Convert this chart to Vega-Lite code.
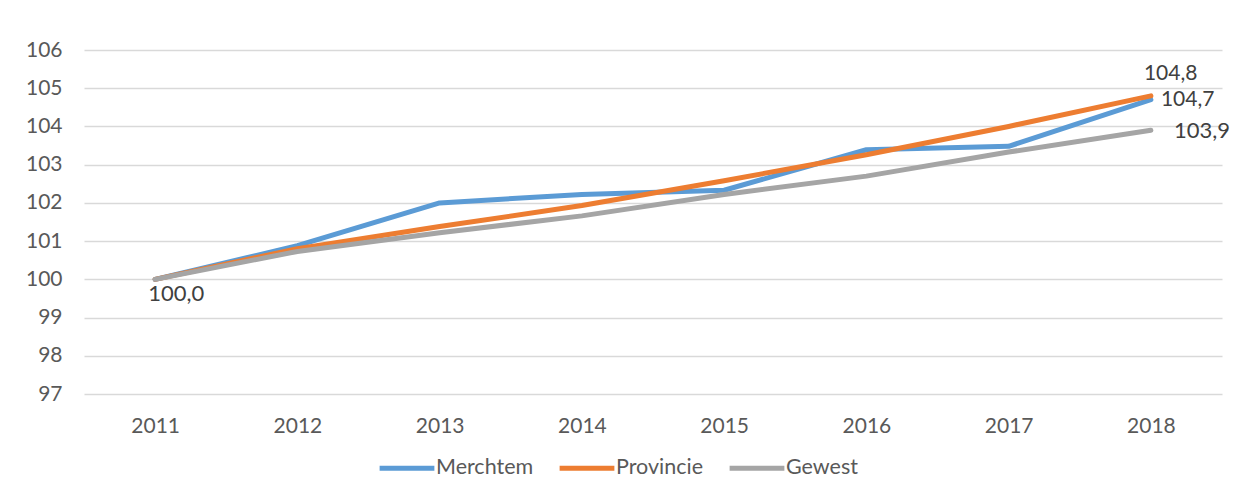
{
  "$schema": "https://vega.github.io/schema/vega-lite/v6.json",
  "width": 1138,
  "height": 344,
  "autosize": {"type": "none"},
  "padding": {"left": 84, "top": 50, "right": 15, "bottom": 107},
  "background": "white",
  "config": {
    "view": {"stroke": null},
    "font": "Lato",
    "locale": {"number": {"decimal": ",", "thousands": ".", "grouping": [3], "currency": ["€", ""]}},
    "axis": {"labelFont": "Lato", "labelFontSize": 21, "labelColor": "#595959", "ticks": false, "domain": false, "title": null},
    "legend": {"labelFont": "Lato", "labelFontSize": 21.5, "labelColor": "#595959"}
  },
  "data": {"values": [
    {"year": "2011", "series": "Merchtem", "value": 100.0},
    {"year": "2012", "series": "Merchtem", "value": 100.88},
    {"year": "2013", "series": "Merchtem", "value": 102.0},
    {"year": "2014", "series": "Merchtem", "value": 102.22},
    {"year": "2015", "series": "Merchtem", "value": 102.33},
    {"year": "2016", "series": "Merchtem", "value": 103.39},
    {"year": "2017", "series": "Merchtem", "value": 103.48},
    {"year": "2018", "series": "Merchtem", "value": 104.7},
    {"year": "2011", "series": "Provincie", "value": 100.0},
    {"year": "2012", "series": "Provincie", "value": 100.8},
    {"year": "2013", "series": "Provincie", "value": 101.38},
    {"year": "2014", "series": "Provincie", "value": 101.93},
    {"year": "2015", "series": "Provincie", "value": 102.58},
    {"year": "2016", "series": "Provincie", "value": 103.26},
    {"year": "2017", "series": "Provincie", "value": 104.0},
    {"year": "2018", "series": "Provincie", "value": 104.8},
    {"year": "2011", "series": "Gewest", "value": 100.0},
    {"year": "2012", "series": "Gewest", "value": 100.73},
    {"year": "2013", "series": "Gewest", "value": 101.22},
    {"year": "2014", "series": "Gewest", "value": 101.66},
    {"year": "2015", "series": "Gewest", "value": 102.22},
    {"year": "2016", "series": "Gewest", "value": 102.7},
    {"year": "2017", "series": "Gewest", "value": 103.33},
    {"year": "2018", "series": "Gewest", "value": 103.9}
  ]},
  "encoding": {
    "x": {"field": "year", "type": "ordinal", "scale": {"type": "point", "padding": 0.5},
      "axis": {"labelAngle": 0, "labelPadding": 21, "grid": false}},
    "y": {"field": "value", "type": "quantitative", "scale": {"domain": [97, 106], "zero": false, "nice": false},
      "axis": {"values": [97, 98, 99, 100, 101, 102, 103, 104, 105, 106], "labelPadding": 22, "grid": true, "gridColor": "#d9d9d9", "gridWidth": 1.5}}
  },
  "layer": [
    {
      "mark": {"type": "line", "strokeWidth": 5, "strokeCap": "round", "strokeJoin": "round"},
      "encoding": {
        "color": {"field": "series", "type": "nominal",
          "scale": {"domain": ["Merchtem", "Provincie", "Gewest"], "range": ["#5B9BD5", "#ED7D31", "#A5A5A5"]},
          "legend": {"orient": "none", "legendX": 293, "legendY": 388, "direction": "horizontal", "title": null,
            "symbolType": "stroke", "symbolSize": 3000, "symbolStrokeWidth": 5, "labelOffset": -1, "columnPadding": 15}}
      }
    },
    {
      "transform": [{"filter": "datum.year == '2011' && datum.series == 'Merchtem'"}],
      "mark": {"type": "text", "align": "left", "baseline": "middle", "dx": -7, "dy": 15, "fontSize": 22, "color": "#404040"},
      "encoding": {"text": {"field": "value", "type": "quantitative", "format": ".1f"}}
    },
    {
      "transform": [{"filter": "datum.year == '2018' && datum.series == 'Provincie'"}],
      "mark": {"type": "text", "align": "left", "baseline": "middle", "dx": -7, "dy": -22, "fontSize": 21, "color": "#404040"},
      "encoding": {"text": {"field": "value", "type": "quantitative", "format": ".1f"}}
    },
    {
      "transform": [{"filter": "datum.year == '2018' && datum.series == 'Merchtem'"}],
      "mark": {"type": "text", "align": "left", "baseline": "middle", "dx": 10, "dy": 0, "fontSize": 21, "color": "#404040"},
      "encoding": {"text": {"field": "value", "type": "quantitative", "format": ".1f"}}
    },
    {
      "transform": [{"filter": "datum.year == '2018' && datum.series == 'Gewest'"}],
      "mark": {"type": "text", "align": "left", "baseline": "middle", "dx": 23, "dy": 1, "fontSize": 22, "color": "#404040"},
      "encoding": {"text": {"field": "value", "type": "quantitative", "format": ".1f"}}
    }
  ]
}
